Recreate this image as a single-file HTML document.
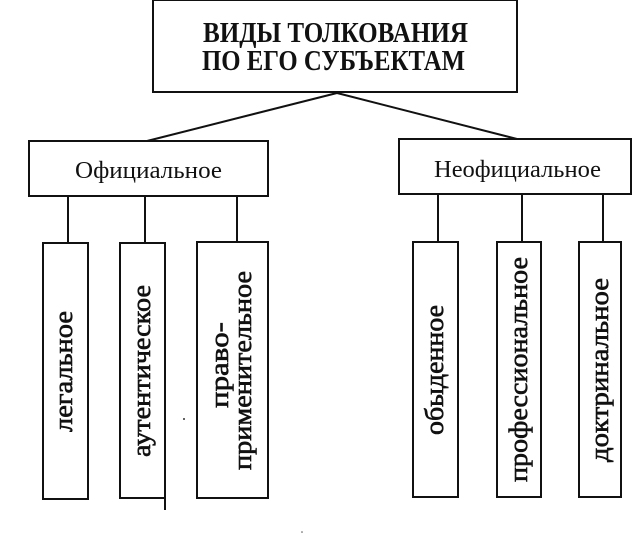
<!DOCTYPE html>
<html><head><meta charset="utf-8"><style>
html,body{margin:0;padding:0;background:#fff;}
svg{display:block;}
text{font-family:"Liberation Serif","DejaVu Serif",serif;fill:#111;}
</style></head><body>
<svg width="642" height="535" viewBox="0 0 642 535" xmlns="http://www.w3.org/2000/svg">
<rect x="0" y="0" width="642" height="535" fill="#fff"/>
<g fill="none" stroke="#111" stroke-width="2">
<rect x="153" y="0" width="364" height="92"/>
<line x1="337" y1="93" x2="147" y2="141"/>
<line x1="337" y1="93" x2="517" y2="139"/>
<rect x="29" y="141" width="239" height="55"/>
<rect x="399" y="139" width="232" height="55"/>
<line x1="68" y1="196" x2="68" y2="243"/>
<line x1="145" y1="196" x2="145" y2="243"/>
<line x1="237" y1="196" x2="237" y2="242"/>
<line x1="438" y1="194" x2="438" y2="242"/>
<line x1="522" y1="194" x2="522" y2="242"/>
<line x1="603" y1="194" x2="603" y2="242"/>
<rect x="43" y="243" width="45" height="256"/>
<rect x="120" y="243" width="45" height="255"/>
<line x1="165" y1="498" x2="165" y2="510"/>
<rect x="197" y="242" width="71" height="256"/>
<rect x="413" y="242" width="45" height="255"/>
<rect x="497" y="242" width="44" height="255"/>
<rect x="579" y="242" width="42" height="255"/>
</g>
<circle cx="184" cy="419" r="1" fill="#333"/>
<circle cx="302" cy="532" r="0.8" fill="#555"/>
<text x="203" y="42" font-size="28" font-weight="bold" textLength="265" lengthAdjust="spacingAndGlyphs">ВИДЫ ТОЛКОВАНИЯ</text>
<text x="202" y="70" font-size="28" font-weight="bold" textLength="263" lengthAdjust="spacingAndGlyphs">ПО ЕГО СУБЪЕКТАМ</text>
<text x="75" y="178" font-size="24" textLength="147" lengthAdjust="spacingAndGlyphs">Официальное</text>
<text x="434" y="177" font-size="24" textLength="167" lengthAdjust="spacingAndGlyphs">Неофициальное</text>
<g font-size="26" stroke="#111" stroke-width="0.6">
<text transform="translate(72,432) rotate(-90)" textLength="121" lengthAdjust="spacingAndGlyphs">легальное</text>
<text transform="translate(150,457) rotate(-90)" textLength="172" lengthAdjust="spacingAndGlyphs">аутентическое</text>
<text transform="translate(228,408) rotate(-90)" textLength="86" lengthAdjust="spacingAndGlyphs">право-</text>
<text transform="translate(251,470) rotate(-90)" textLength="199" lengthAdjust="spacingAndGlyphs">применительное</text>
<text transform="translate(443,435) rotate(-90)" textLength="130" lengthAdjust="spacingAndGlyphs">обыденное</text>
<text transform="translate(527,482) rotate(-90)" textLength="225" lengthAdjust="spacingAndGlyphs">профессиональное</text>
<text transform="translate(608,462) rotate(-90)" textLength="184" lengthAdjust="spacingAndGlyphs">доктринальное</text>
</g>
</svg>
</body></html>
